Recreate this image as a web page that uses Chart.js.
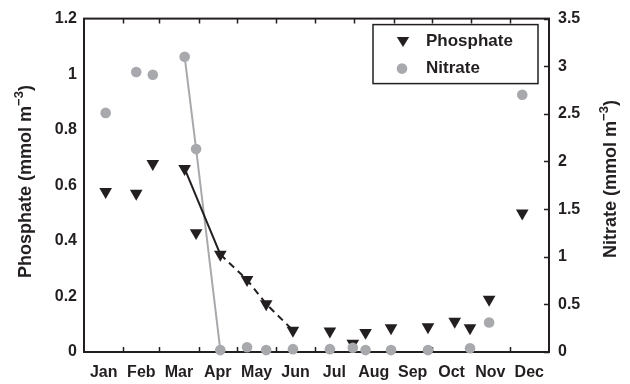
<!DOCTYPE html>
<html>
<head>
<meta charset="utf-8">
<script src="https://cdn.jsdelivr.net/npm/chart.js@4/dist/chart.umd.min.js"></script>
<style>
  html, body { margin: 0; padding: 0; background: #fff; }
  #wrap { width: 630px; height: 384px; }
</style>
</head>
<body>
<div id="wrap"><canvas id="chart" width="630" height="384"></canvas></div>
<script>
const months = ["Jan", "Feb", "Mar", "Apr", "May", "Jun", "Jul", "Aug", "Sep", "Oct", "Nov", "Dec"];
const monthStarts = [0, 31, 59, 90, 120, 151, 181, 212, 243, 273, 304, 334, 365];

// sampling days (day of year) shared by both series
const sampleDays = [17, 41, 54, 79, 88, 107, 128, 143, 164, 193, 211, 221, 241, 270, 291, 303, 318, 344];
const phosphate = [0.577, 0.571, 0.678, 0.660, 0.429, 0.351, 0.260, 0.173, 0.078, 0.075, 0.031, 0.070, 0.087, 0.090, 0.110, 0.087, 0.189, 0.500];
const nitrate = [2.51, 2.94, 2.91, 3.10, 2.13, 0.02, 0.05, 0.02, 0.03, 0.03, 0.045, 0.02, 0.02, 0.02, null, 0.04, 0.31, 2.70];

// which samples are joined by lines
const phosSolidIdx = [3, 5];
const phosDashedIdx = [5, 6, 7, 8];
const nitrateLineIdx = [3, 4, 5];

const leftTitle = ["Phosphate (mmol m", "\u22123", ")"];
const rightTitle = ["Nitrate (mmol m", "\u22123", ")"];

const DARK = "#231f20";
const GREY = "#a7a9ac";
const FONT = '"Liberation Sans", Arial, sans-serif';

const monthMids = months.map((m, i) => (monthStarts[i] + monthStarts[i + 1]) / 2);

function pts(values, idx) {
    const list = idx || values.map((v, i) => i);
    return list.filter(i => values[i] !== null).map(i => ({ x: sampleDays[i], y: values[i] }));
}

function drawTitle(ctx, cx, cy, parts) {
    ctx.save();
    ctx.translate(cx, cy);
    ctx.rotate(-Math.PI / 2);
    ctx.fillStyle = DARK;
    ctx.textBaseline = "middle";
    ctx.textAlign = "left";
    const big = "bold 18px " + FONT, small = "bold 13px " + FONT;
    ctx.font = big; const w0 = ctx.measureText(parts[0]).width;
    ctx.font = small; const w1 = ctx.measureText(parts[1]).width;
    ctx.font = big; const w2 = ctx.measureText(parts[2]).width;
    let x = -(w0 + w1 + w2) / 2;
    ctx.font = big; ctx.fillText(parts[0], x, 0); x += w0;
    ctx.font = small; ctx.fillText(parts[1], x, -7); x += w1;
    ctx.font = big; ctx.fillText(parts[2], x, 0);
    ctx.restore();
}

const framePlugin = {
    id: "frame",
    beforeDatasetsDraw(chart) {
        const { ctx, chartArea: a, scales } = chart;
        ctx.save();
        ctx.strokeStyle = DARK;
        ctx.lineWidth = 2;
        ctx.strokeRect(a.left, a.top, a.right - a.left, a.bottom - a.top);
        ctx.lineWidth = 1.5;
        ctx.beginPath();
        monthStarts.slice(1, -1).forEach(d => {
            const px = Math.round(scales.x.getPixelForValue(d)) + 0.5;
            ctx.moveTo(px, a.bottom); ctx.lineTo(px, a.bottom - 5);
            ctx.moveTo(px, a.top); ctx.lineTo(px, a.top + 5);
        });
        scales.y2.ticks.forEach(t => {
            const py = Math.round(scales.y2.getPixelForValue(t.value)) + 0.5;
            ctx.moveTo(a.right, py); ctx.lineTo(a.right - 5, py);
        });
        ctx.stroke();
        ctx.restore();
    },
    afterDraw(chart) {
        const { ctx, chartArea: a } = chart;
        drawTitle(ctx, 26, 181.5, leftTitle);
        drawTitle(ctx, 611, 179, rightTitle);

        // legend box
        const x0 = a.right - 176, y0 = a.top + 6, w = 165, h = 59;
        ctx.save();
        ctx.fillStyle = "#fff";
        ctx.fillRect(x0, y0, w, h);
        ctx.strokeStyle = DARK;
        ctx.lineWidth = 1.5;
        ctx.strokeRect(x0, y0, w, h);

        const r1 = y0 + 16.5, r2 = y0 + 44;
        ctx.fillStyle = DARK;
        ctx.beginPath();
        ctx.moveTo(x0 + 30 - 6.2, r1 - 4);
        ctx.lineTo(x0 + 30 + 6.2, r1 - 4);
        ctx.lineTo(x0 + 30, r1 + 6);
        ctx.closePath();
        ctx.fill();
        ctx.fillStyle = GREY;
        ctx.beginPath();
        ctx.arc(x0 + 29, r2, 5.3, 0, Math.PI * 2);
        ctx.fill();

        ctx.fillStyle = DARK;
        ctx.font = "bold 17px " + FONT;
        ctx.textBaseline = "middle";
        ctx.fillText("Phosphate", x0 + 53, r1);
        ctx.fillText("Nitrate", x0 + 53, r2);
        ctx.restore();
    }
};

const tickFont = { family: FONT, size: 16, weight: "bold" };

new Chart(document.getElementById("chart"), {
    type: "scatter",
    data: {
        datasets: [
            {
                label: "Nitrate",
                data: pts(nitrate),
                pointStyle: "circle",
                pointRadius: 5.3,
                backgroundColor: GREY,
                borderWidth: 0,
                showLine: false,
                clip: false,
                yAxisID: "y2",
                order: 0
            },
            {
                label: "Phosphate",
                data: pts(phosphate),
                pointStyle: "triangle",
                pointRadius: 7.3,
                rotation: 180,
                backgroundColor: DARK,
                borderWidth: 0,
                showLine: false,
                clip: false,
                yAxisID: "y",
                order: 1
            },
            {
                data: pts(phosphate, phosSolidIdx),
                showLine: true,
                pointRadius: 0,
                borderColor: DARK,
                borderWidth: 2,
                yAxisID: "y",
                order: 2
            },
            {
                data: pts(phosphate, phosDashedIdx),
                showLine: true,
                pointRadius: 0,
                borderColor: DARK,
                borderWidth: 2,
                borderDash: [7, 5],
                yAxisID: "y",
                order: 2
            },
            {
                data: pts(nitrate, nitrateLineIdx),
                showLine: true,
                pointRadius: 0,
                borderColor: GREY,
                borderWidth: 2,
                yAxisID: "y2",
                order: 3
            }
        ]
    },
    options: {
        responsive: false,
        animation: false,
        layout: { padding: { top: 15, left: 0, right: 0, bottom: 0 } },
        plugins: { legend: { display: false }, tooltip: { enabled: false } },
        scales: {
            x: {
                type: "linear",
                min: 0,
                max: 365,
                grid: { display: false, drawTicks: false },
                border: { display: false },
                afterBuildTicks: scale => { scale.ticks = monthMids.map(v => ({ value: v })); },
                afterFit: scale => { scale.height = 32; },
                ticks: {
                    autoSkip: false,
                    maxRotation: 0,
                    minRotation: 0,
                    padding: 11,
                    color: DARK,
                    font: tickFont,
                    callback: (v, i) => months[i]
                }
            },
            y: {
                position: "left",
                min: 0,
                max: 1.2,
                grid: { display: false, drawTicks: false },
                border: { display: false },
                afterFit: scale => { scale.width = 84; },
                ticks: {
                    stepSize: 0.2,
                    padding: 7,
                    color: DARK,
                    font: tickFont,
                    callback: v => String(+v.toFixed(1))
                }
            },
            y2: {
                position: "right",
                min: 0,
                max: 3.5,
                grid: { display: false, drawTicks: false },
                border: { display: false },
                afterFit: scale => { scale.width = 81; },
                ticks: {
                    stepSize: 0.5,
                    padding: 9,
                    color: DARK,
                    font: tickFont,
                    callback: v => String(+v.toFixed(1))
                }
            }
        }
    },
    plugins: [framePlugin]
});
</script>
</body>
</html>
